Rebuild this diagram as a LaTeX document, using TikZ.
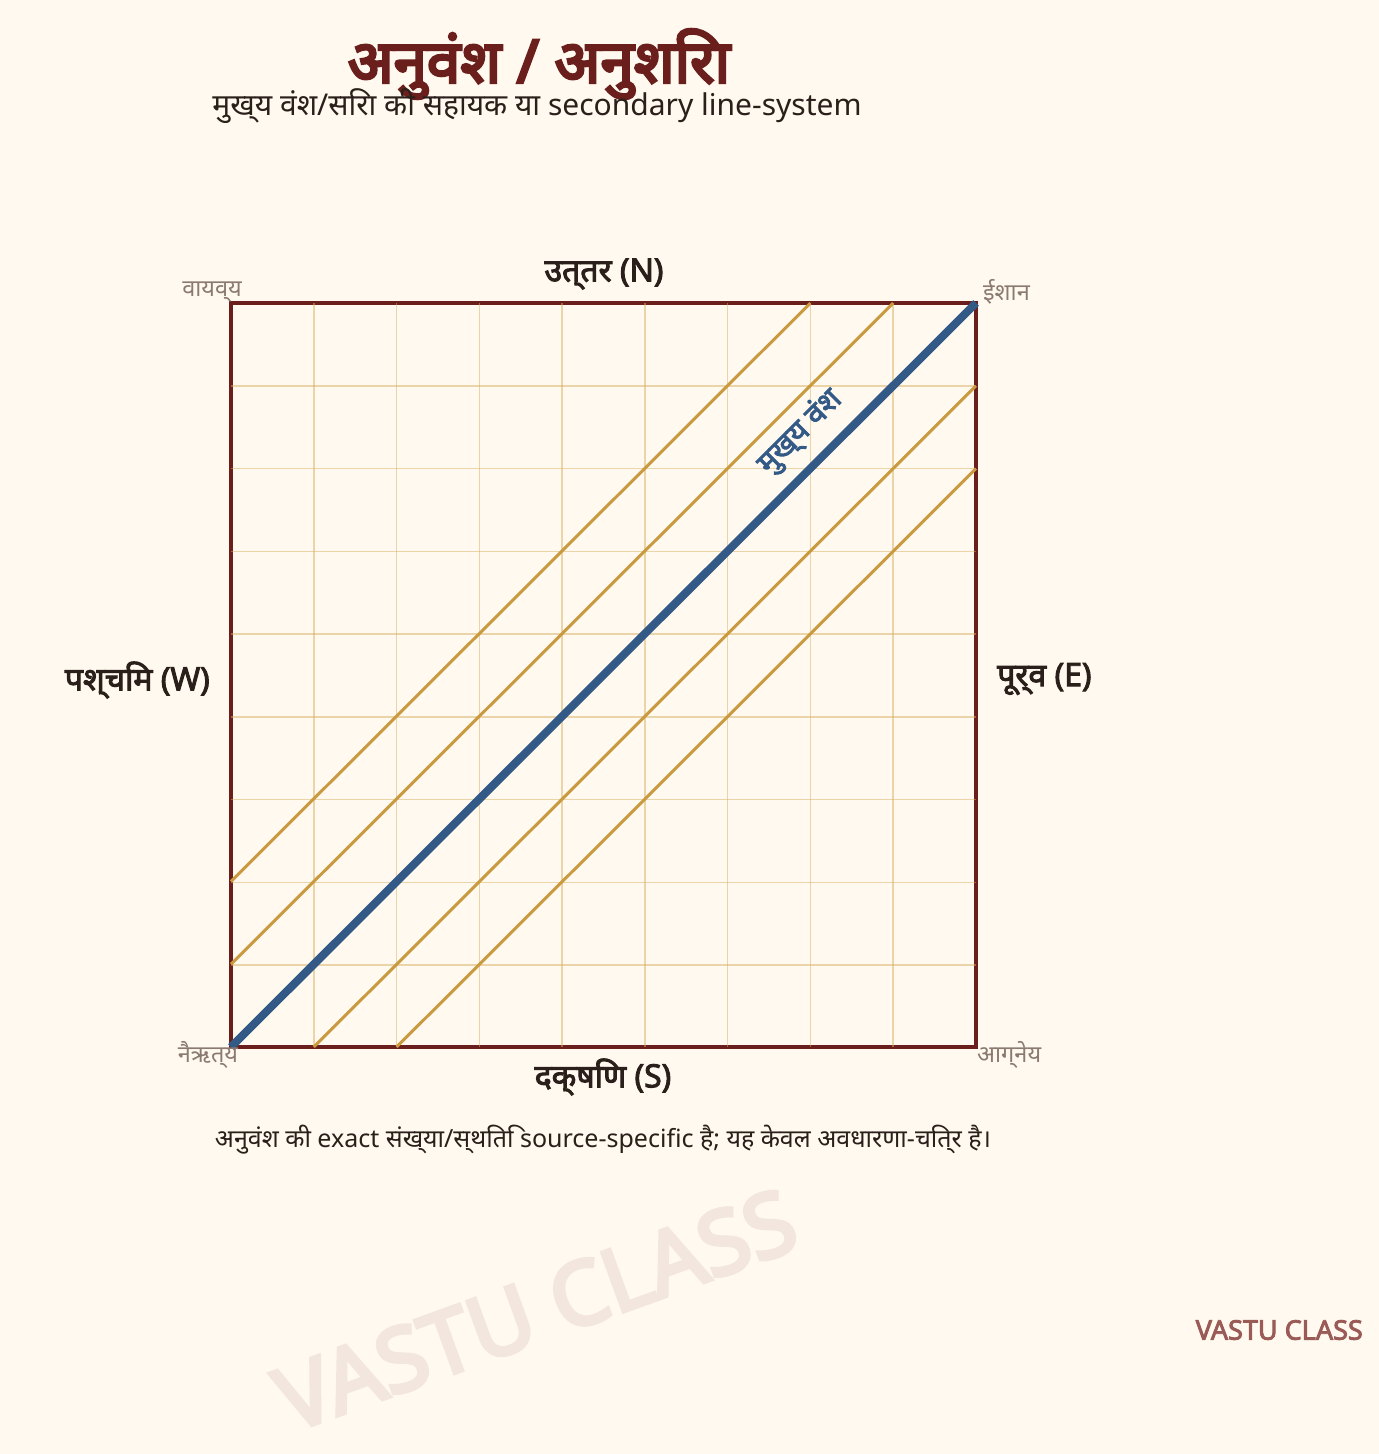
\documentclass[tikz,border=0pt]{standalone}
\usepackage{fontspec}
\setmainfont{Noto Sans}[AutoFakeBold=3]
\newfontfamily\heavyfont{Noto Sans}[FakeBold=4.5]
\usetikzlibrary{calc}
\definecolor{bgc}{HTML}{FFF9EF}
\definecolor{framec}{HTML}{6B1F1C}
\definecolor{goldc}{HTML}{C99A40}
\definecolor{gridc}{HTML}{D9B062}
\definecolor{bluec}{HTML}{335A87}
\definecolor{textc}{HTML}{2A1F1A}
\definecolor{cornerc}{HTML}{8A7A70}
\definecolor{wmc}{HTML}{F3E6DF}
\definecolor{brandc}{HTML}{9A5A55}
\tikzset{
  titlestyle/.style={font=\fontsize{60}{66}\heavyfont, text=framec, inner sep=0pt},
  subtitlestyle/.style={font=\fontsize{30}{34}\selectfont, text=textc, inner sep=0pt},
  dirlabel/.style={font=\fontsize{32}{36}\bfseries, text=textc, inner sep=0pt},
  cornerlabel/.style={font=\fontsize{23.5}{26}\selectfont, text=cornerc, inner sep=0pt},
  captionstyle/.style={font=\fontsize{25}{28}\selectfont, text=textc, inner sep=0pt},
  gridline/.style={draw=gridc, line width=1.5pt, opacity=0.5},
  goldline/.style={draw=goldc, line width=3pt},
  mainline/.style={draw=bluec, line width=8pt},
  framestyle/.style={draw=framec, line width=4pt},
}
\begin{document}
\begin{tikzpicture}[x=1pt,y=-1pt]
\fill[bgc] (0,0) rectangle (1379,1454);
\useasboundingbox (0,0) rectangle (1379,1454);
% watermark
\node[font=\fontsize{88}{92}\heavyfont, text=wmc, rotate=20, inner sep=0pt] (wm) at (536,1310) {VASTU CLASS};
% square corners
\coordinate (NW) at (231,303);
\coordinate (NE) at (976,303);
\coordinate (SW) at (231,1047);
\coordinate (SE) at (976,1047);
\def\cs{82.7778}
\draw[framestyle] (NW) rectangle (SE);
\foreach \i in {1,...,8}{
  \draw[gridline] ($(NW)+(\i*\cs,0)$) -- ($(SW)+(\i*\cs,0)$);
  \draw[gridline] ($(NW)+(0,\i*\cs)$) -- ($(NE)+(0,\i*\cs)$);
}
% secondary lines
\draw[goldline] ($(SW)+(0,-2*\cs)$) -- ($(NE)+(-2*\cs,0)$);
\draw[goldline] ($(SW)+(0,-\cs)$) -- ($(NE)+(-\cs,0)$);
\draw[goldline] ($(SW)+(\cs,0)$) -- ($(NE)+(0,\cs)$);
\draw[goldline] ($(SW)+(2*\cs,0)$) -- ($(NE)+(0,2*\cs)$);
% main line
\draw[mainline] (SW) -- (NE);
\node[font=\fontsize{30}{34}\bfseries, text=bluec, rotate=45, inner sep=0pt] (ml) at (800,432) {मुख्य वंश};
% titles
\node[titlestyle] (title) at (539,64) {अनुवंश / अनुशिरा};
\node[subtitlestyle] (sub) at (537,106) {मुख्य वंश/सिरा की सहायक या secondary line-system};
% directions
\node[dirlabel] (N) at (604,274) {उत्तर (N)};
\node[dirlabel] (S) at (603,1077) {दक्षिण (S)};
\node[dirlabel, anchor=east] (W) at (210,680) {पश्चिम (W)};
\node[dirlabel, anchor=west] (E) at (997,679) {पूर्व (E)};
% corners
\node[cornerlabel] (nw) at (212,292) {वायव्य};
\node[cornerlabel, anchor=west] (ne) at (983,292) {ईशान};
\node[cornerlabel] (sw) at (208,1055) {नैऋत्य};
\node[cornerlabel, anchor=west] (se) at (977,1055) {आग्नेय};
% caption
\node[captionstyle] (cap) at (603,1140) {अनुवंश की exact संख्या/स्थिति source-specific है; यह केवल अवधारणा-चित्र है।};
\node[font=\fontsize{27}{30}\bfseries, text=brandc, anchor=east, inner sep=0pt] (brand) at (1363,1330) {VASTU CLASS};
\end{tikzpicture}
\end{document}
